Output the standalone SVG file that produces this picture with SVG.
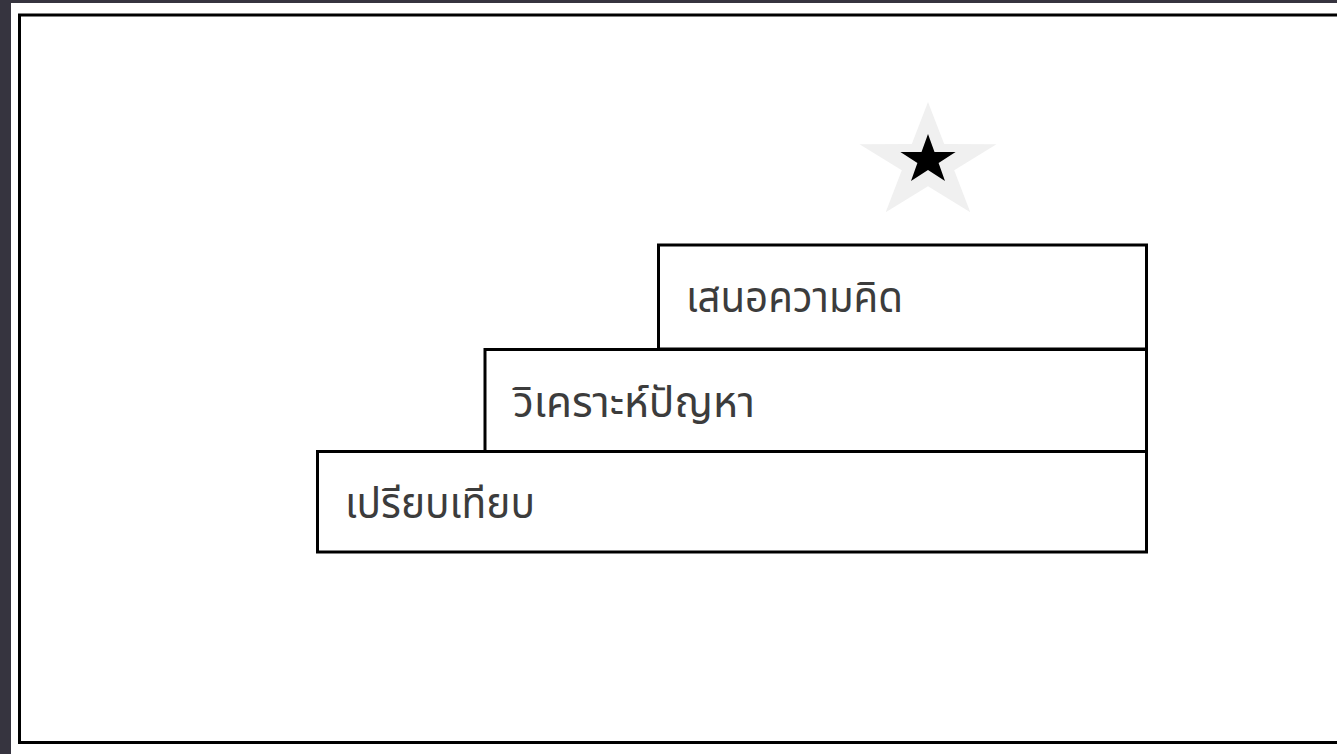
<svg xmlns="http://www.w3.org/2000/svg" width="1337" height="754" viewBox="0 0 1337 754">
  <style>
    .box { fill: #ffffff; stroke: #000000; stroke-width: 3; }
    .lbl { font-family: "Noto Sans Thai", "Noto Sans", "DejaVu Sans", sans-serif; font-size: 42px; fill: #3c3c3c; }
  </style>
  <rect x="0" y="0" width="1337" height="754" fill="#36343f"/>
  <rect x="11" y="3" width="1326" height="751" fill="#ffffff"/>
  <rect x="19.5" y="15" width="1400" height="727.5" fill="none" stroke="#000000" stroke-width="3"/>
  <g id="star">
    <polygon fill="#f0f0f0" points="928,102 944.2,144.1 996.5,144.2 954.2,170.2 970.3,212.3 928,186.3 885.7,212.3 901.8,170.2 859.5,144.2 911.8,144.1"/>
    <polygon fill="#000000" points="928,134 934.5,152 955.6,152 938.6,163.1 945,181 928,170 911,181 917.4,163.1 900.4,152 921.5,152"/>
  </g>
  <g id="step3">
    <rect class="box" x="317.5" y="451.5" width="829" height="100.5"/>
    <text class="lbl" x="345" y="518" textLength="190" lengthAdjust="spacingAndGlyphs">เปรียบเทียบ</text>
  </g>
  <g id="step2">
    <rect class="box" x="485" y="349.5" width="661.5" height="102"/>
    <text class="lbl" x="513" y="417" textLength="242" lengthAdjust="spacingAndGlyphs">วิเคราะห์ปัญหา</text>
  </g>
  <g id="step1">
    <rect class="box" x="658.5" y="245" width="488" height="104"/>
    <text class="lbl" x="686" y="312" textLength="217" lengthAdjust="spacingAndGlyphs">เสนอความคิด</text>
  </g>
  <g id="connectors"></g>
</svg>
